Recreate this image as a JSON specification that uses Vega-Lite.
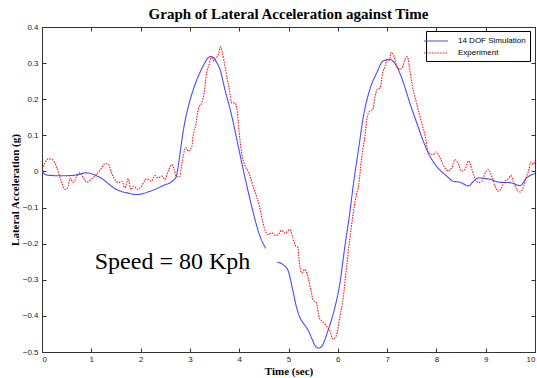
{
  "$schema": "https://vega.github.io/schema/vega-lite/v6.json",
  "width": 493,
  "height": 325,
  "autosize": "none",
  "padding": {"left": 42, "top": 27, "right": 2, "bottom": 26},
  "background": "#ffffff",
  "title": {"text": "Graph of Lateral Acceleration against Time", "font": "Liberation Serif", "fontSize": 15, "fontWeight": "bold", "color": "#000", "anchor": "middle", "offset": 1},
  "config": {
    "view": {"stroke": "#333", "strokeWidth": 1},
    "axis": {"grid": false, "domainColor": "#333", "tickColor": "#333", "tickSize": -4, "labelFont": "Liberation Sans", "labelFontSize": 8, "labelColor": "#222", "titleFont": "Liberation Serif", "titleFontSize": 11, "titleFontWeight": "bold", "titleColor": "#000"},
    "legend": {"orient": "none", "legendX": 384, "legendY": 4, "strokeColor": "#000", "fillColor": "#fff", "padding": 4, "labelFont": "Liberation Sans", "labelFontSize": 8, "labelColor": "#000", "symbolType": "M-2.4,0H2.4", "symbolSize": 100, "symbolStrokeWidth": 1.2, "rowPadding": 2, "labelOffset": 16, "cornerRadius": 0}
  },
  "datasets": {
    "curves": [
      {"t":0,"v":0.0,"s":"14 DOF Simulation","g":"a"},
      {"t":0.1,"v":-0.01,"s":"14 DOF Simulation","g":"a"},
      {"t":0.37,"v":-0.012,"s":"14 DOF Simulation","g":"a"},
      {"t":0.63,"v":-0.011,"s":"14 DOF Simulation","g":"a"},
      {"t":0.9,"v":-0.004,"s":"14 DOF Simulation","g":"a"},
      {"t":1.18,"v":-0.017,"s":"14 DOF Simulation","g":"a"},
      {"t":1.51,"v":-0.05,"s":"14 DOF Simulation","g":"a"},
      {"t":1.75,"v":-0.06,"s":"14 DOF Simulation","g":"a"},
      {"t":1.92,"v":-0.064,"s":"14 DOF Simulation","g":"a"},
      {"t":2.19,"v":-0.055,"s":"14 DOF Simulation","g":"a"},
      {"t":2.46,"v":-0.039,"s":"14 DOF Simulation","g":"a"},
      {"t":2.66,"v":-0.025,"s":"14 DOF Simulation","g":"a"},
      {"t":2.72,"v":-0.015,"s":"14 DOF Simulation","g":"a"},
      {"t":2.78,"v":0.03,"s":"14 DOF Simulation","g":"a"},
      {"t":2.82,"v":0.07,"s":"14 DOF Simulation","g":"a"},
      {"t":2.87,"v":0.116,"s":"14 DOF Simulation","g":"a"},
      {"t":2.97,"v":0.181,"s":"14 DOF Simulation","g":"a"},
      {"t":3.07,"v":0.227,"s":"14 DOF Simulation","g":"a"},
      {"t":3.2,"v":0.273,"s":"14 DOF Simulation","g":"a"},
      {"t":3.3,"v":0.3,"s":"14 DOF Simulation","g":"a"},
      {"t":3.37,"v":0.315,"s":"14 DOF Simulation","g":"a"},
      {"t":3.43,"v":0.318,"s":"14 DOF Simulation","g":"a"},
      {"t":3.48,"v":0.315,"s":"14 DOF Simulation","g":"a"},
      {"t":3.55,"v":0.3,"s":"14 DOF Simulation","g":"a"},
      {"t":3.61,"v":0.283,"s":"14 DOF Simulation","g":"a"},
      {"t":3.71,"v":0.227,"s":"14 DOF Simulation","g":"a"},
      {"t":3.85,"v":0.153,"s":"14 DOF Simulation","g":"a"},
      {"t":3.98,"v":0.07,"s":"14 DOF Simulation","g":"a"},
      {"t":4.08,"v":0.006,"s":"14 DOF Simulation","g":"a"},
      {"t":4.22,"v":-0.078,"s":"14 DOF Simulation","g":"a"},
      {"t":4.32,"v":-0.133,"s":"14 DOF Simulation","g":"a"},
      {"t":4.42,"v":-0.179,"s":"14 DOF Simulation","g":"a"},
      {"t":4.54,"v":-0.213,"s":"14 DOF Simulation","g":"a"},
      {"t":4.77,"v":-0.251,"s":"14 DOF Simulation","g":"b"},
      {"t":4.89,"v":-0.258,"s":"14 DOF Simulation","g":"b"},
      {"t":4.99,"v":-0.274,"s":"14 DOF Simulation","g":"b"},
      {"t":5.09,"v":-0.331,"s":"14 DOF Simulation","g":"b"},
      {"t":5.17,"v":-0.38,"s":"14 DOF Simulation","g":"b"},
      {"t":5.23,"v":-0.404,"s":"14 DOF Simulation","g":"b"},
      {"t":5.3,"v":-0.42,"s":"14 DOF Simulation","g":"b"},
      {"t":5.4,"v":-0.44,"s":"14 DOF Simulation","g":"b"},
      {"t":5.48,"v":-0.465,"s":"14 DOF Simulation","g":"b"},
      {"t":5.56,"v":-0.486,"s":"14 DOF Simulation","g":"b"},
      {"t":5.62,"v":-0.489,"s":"14 DOF Simulation","g":"b"},
      {"t":5.67,"v":-0.485,"s":"14 DOF Simulation","g":"b"},
      {"t":5.8,"v":-0.441,"s":"14 DOF Simulation","g":"b"},
      {"t":5.94,"v":-0.377,"s":"14 DOF Simulation","g":"b"},
      {"t":6.04,"v":-0.312,"s":"14 DOF Simulation","g":"b"},
      {"t":6.14,"v":-0.211,"s":"14 DOF Simulation","g":"b"},
      {"t":6.24,"v":-0.118,"s":"14 DOF Simulation","g":"b"},
      {"t":6.31,"v":-0.042,"s":"14 DOF Simulation","g":"b"},
      {"t":6.42,"v":0.061,"s":"14 DOF Simulation","g":"b"},
      {"t":6.52,"v":0.153,"s":"14 DOF Simulation","g":"b"},
      {"t":6.65,"v":0.227,"s":"14 DOF Simulation","g":"b"},
      {"t":6.79,"v":0.273,"s":"14 DOF Simulation","g":"b"},
      {"t":6.92,"v":0.306,"s":"14 DOF Simulation","g":"b"},
      {"t":7.06,"v":0.31,"s":"14 DOF Simulation","g":"b"},
      {"t":7.19,"v":0.292,"s":"14 DOF Simulation","g":"b"},
      {"t":7.33,"v":0.246,"s":"14 DOF Simulation","g":"b"},
      {"t":7.46,"v":0.19,"s":"14 DOF Simulation","g":"b"},
      {"t":7.6,"v":0.135,"s":"14 DOF Simulation","g":"b"},
      {"t":7.73,"v":0.085,"s":"14 DOF Simulation","g":"b"},
      {"t":7.87,"v":0.042,"s":"14 DOF Simulation","g":"b"},
      {"t":8.0,"v":0.015,"s":"14 DOF Simulation","g":"b"},
      {"t":8.1,"v":0.0,"s":"14 DOF Simulation","g":"b"},
      {"t":8.21,"v":-0.013,"s":"14 DOF Simulation","g":"b"},
      {"t":8.34,"v":-0.027,"s":"14 DOF Simulation","g":"b"},
      {"t":8.48,"v":-0.03,"s":"14 DOF Simulation","g":"b"},
      {"t":8.65,"v":-0.04,"s":"14 DOF Simulation","g":"b"},
      {"t":8.75,"v":-0.028,"s":"14 DOF Simulation","g":"b"},
      {"t":8.85,"v":-0.018,"s":"14 DOF Simulation","g":"b"},
      {"t":9.09,"v":-0.022,"s":"14 DOF Simulation","g":"b"},
      {"t":9.29,"v":-0.03,"s":"14 DOF Simulation","g":"b"},
      {"t":9.49,"v":-0.031,"s":"14 DOF Simulation","g":"b"},
      {"t":9.7,"v":-0.039,"s":"14 DOF Simulation","g":"b"},
      {"t":9.83,"v":-0.018,"s":"14 DOF Simulation","g":"b"},
      {"t":9.97,"v":-0.007,"s":"14 DOF Simulation","g":"b"},
      {"t":10,"v":-0.006,"s":"14 DOF Simulation","g":"b"},
      {"t":0,"v":0.006,"s":"Experiment","g":"c"},
      {"t":0.06,"v":0.024,"s":"Experiment","g":"c"},
      {"t":0.13,"v":0.035,"s":"Experiment","g":"c"},
      {"t":0.23,"v":0.031,"s":"Experiment","g":"c"},
      {"t":0.3,"v":0.01,"s":"Experiment","g":"c"},
      {"t":0.37,"v":-0.018,"s":"Experiment","g":"c"},
      {"t":0.47,"v":-0.05,"s":"Experiment","g":"c"},
      {"t":0.53,"v":-0.041,"s":"Experiment","g":"c"},
      {"t":0.57,"v":-0.018,"s":"Experiment","g":"c"},
      {"t":0.63,"v":-0.03,"s":"Experiment","g":"c"},
      {"t":0.7,"v":-0.015,"s":"Experiment","g":"c"},
      {"t":0.77,"v":-0.004,"s":"Experiment","g":"c"},
      {"t":0.84,"v":-0.018,"s":"Experiment","g":"c"},
      {"t":0.91,"v":-0.03,"s":"Experiment","g":"c"},
      {"t":1.01,"v":-0.02,"s":"Experiment","g":"c"},
      {"t":1.11,"v":-0.008,"s":"Experiment","g":"c"},
      {"t":1.21,"v":0.01,"s":"Experiment","g":"c"},
      {"t":1.28,"v":0.022,"s":"Experiment","g":"c"},
      {"t":1.35,"v":0.019,"s":"Experiment","g":"c"},
      {"t":1.41,"v":-0.004,"s":"Experiment","g":"c"},
      {"t":1.48,"v":-0.022,"s":"Experiment","g":"c"},
      {"t":1.55,"v":-0.031,"s":"Experiment","g":"c"},
      {"t":1.62,"v":-0.027,"s":"Experiment","g":"c"},
      {"t":1.68,"v":-0.045,"s":"Experiment","g":"c"},
      {"t":1.75,"v":-0.02,"s":"Experiment","g":"c"},
      {"t":1.8,"v":-0.05,"s":"Experiment","g":"c"},
      {"t":1.87,"v":-0.041,"s":"Experiment","g":"c"},
      {"t":1.93,"v":-0.05,"s":"Experiment","g":"c"},
      {"t":2.02,"v":-0.041,"s":"Experiment","g":"c"},
      {"t":2.12,"v":-0.02,"s":"Experiment","g":"c"},
      {"t":2.22,"v":-0.027,"s":"Experiment","g":"c"},
      {"t":2.29,"v":-0.011,"s":"Experiment","g":"c"},
      {"t":2.36,"v":-0.018,"s":"Experiment","g":"c"},
      {"t":2.43,"v":-0.013,"s":"Experiment","g":"c"},
      {"t":2.49,"v":-0.022,"s":"Experiment","g":"c"},
      {"t":2.56,"v":0.001,"s":"Experiment","g":"c"},
      {"t":2.63,"v":0.019,"s":"Experiment","g":"c"},
      {"t":2.68,"v":0.006,"s":"Experiment","g":"c"},
      {"t":2.73,"v":-0.015,"s":"Experiment","g":"c"},
      {"t":2.8,"v":-0.013,"s":"Experiment","g":"c"},
      {"t":2.83,"v":0.015,"s":"Experiment","g":"c"},
      {"t":2.87,"v":0.047,"s":"Experiment","g":"c"},
      {"t":2.92,"v":0.066,"s":"Experiment","g":"c"},
      {"t":2.97,"v":0.056,"s":"Experiment","g":"c"},
      {"t":3.04,"v":0.07,"s":"Experiment","g":"c"},
      {"t":3.07,"v":0.102,"s":"Experiment","g":"c"},
      {"t":3.12,"v":0.13,"s":"Experiment","g":"c"},
      {"t":3.17,"v":0.172,"s":"Experiment","g":"c"},
      {"t":3.24,"v":0.19,"s":"Experiment","g":"c"},
      {"t":3.29,"v":0.218,"s":"Experiment","g":"c"},
      {"t":3.34,"v":0.273,"s":"Experiment","g":"c"},
      {"t":3.39,"v":0.296,"s":"Experiment","g":"c"},
      {"t":3.44,"v":0.319,"s":"Experiment","g":"c"},
      {"t":3.49,"v":0.306,"s":"Experiment","g":"c"},
      {"t":3.54,"v":0.315,"s":"Experiment","g":"c"},
      {"t":3.59,"v":0.329,"s":"Experiment","g":"c"},
      {"t":3.62,"v":0.345,"s":"Experiment","g":"c"},
      {"t":3.66,"v":0.329,"s":"Experiment","g":"c"},
      {"t":3.71,"v":0.292,"s":"Experiment","g":"c"},
      {"t":3.76,"v":0.255,"s":"Experiment","g":"c"},
      {"t":3.8,"v":0.227,"s":"Experiment","g":"c"},
      {"t":3.85,"v":0.19,"s":"Experiment","g":"c"},
      {"t":3.91,"v":0.19,"s":"Experiment","g":"c"},
      {"t":3.96,"v":0.167,"s":"Experiment","g":"c"},
      {"t":4.0,"v":0.107,"s":"Experiment","g":"c"},
      {"t":4.05,"v":0.052,"s":"Experiment","g":"c"},
      {"t":4.12,"v":0.015,"s":"Experiment","g":"c"},
      {"t":4.18,"v":0.001,"s":"Experiment","g":"c"},
      {"t":4.24,"v":-0.022,"s":"Experiment","g":"c"},
      {"t":4.29,"v":-0.045,"s":"Experiment","g":"c"},
      {"t":4.35,"v":-0.068,"s":"Experiment","g":"c"},
      {"t":4.41,"v":-0.096,"s":"Experiment","g":"c"},
      {"t":4.46,"v":-0.128,"s":"Experiment","g":"c"},
      {"t":4.52,"v":-0.161,"s":"Experiment","g":"c"},
      {"t":4.59,"v":-0.175,"s":"Experiment","g":"c"},
      {"t":4.66,"v":-0.17,"s":"Experiment","g":"c"},
      {"t":4.73,"v":-0.177,"s":"Experiment","g":"c"},
      {"t":4.79,"v":-0.175,"s":"Experiment","g":"c"},
      {"t":4.86,"v":-0.163,"s":"Experiment","g":"c"},
      {"t":4.93,"v":-0.172,"s":"Experiment","g":"c"},
      {"t":4.98,"v":-0.165,"s":"Experiment","g":"c"},
      {"t":5.03,"v":-0.161,"s":"Experiment","g":"c"},
      {"t":5.09,"v":-0.184,"s":"Experiment","g":"c"},
      {"t":5.15,"v":-0.207,"s":"Experiment","g":"c"},
      {"t":5.19,"v":-0.21,"s":"Experiment","g":"c"},
      {"t":5.22,"v":-0.253,"s":"Experiment","g":"c"},
      {"t":5.27,"v":-0.281,"s":"Experiment","g":"c"},
      {"t":5.33,"v":-0.271,"s":"Experiment","g":"c"},
      {"t":5.4,"v":-0.295,"s":"Experiment","g":"c"},
      {"t":5.46,"v":-0.332,"s":"Experiment","g":"c"},
      {"t":5.5,"v":-0.357,"s":"Experiment","g":"c"},
      {"t":5.56,"v":-0.363,"s":"Experiment","g":"c"},
      {"t":5.63,"v":-0.407,"s":"Experiment","g":"c"},
      {"t":5.71,"v":-0.418,"s":"Experiment","g":"c"},
      {"t":5.77,"v":-0.428,"s":"Experiment","g":"c"},
      {"t":5.84,"v":-0.442,"s":"Experiment","g":"c"},
      {"t":5.9,"v":-0.464,"s":"Experiment","g":"c"},
      {"t":5.97,"v":-0.455,"s":"Experiment","g":"c"},
      {"t":6.04,"v":-0.404,"s":"Experiment","g":"c"},
      {"t":6.11,"v":-0.349,"s":"Experiment","g":"c"},
      {"t":6.17,"v":-0.275,"s":"Experiment","g":"c"},
      {"t":6.24,"v":-0.192,"s":"Experiment","g":"c"},
      {"t":6.31,"v":-0.118,"s":"Experiment","g":"c"},
      {"t":6.38,"v":-0.063,"s":"Experiment","g":"c"},
      {"t":6.42,"v":-0.041,"s":"Experiment","g":"c"},
      {"t":6.48,"v":0.033,"s":"Experiment","g":"c"},
      {"t":6.55,"v":0.098,"s":"Experiment","g":"c"},
      {"t":6.6,"v":0.153,"s":"Experiment","g":"c"},
      {"t":6.65,"v":0.167,"s":"Experiment","g":"c"},
      {"t":6.71,"v":0.172,"s":"Experiment","g":"c"},
      {"t":6.75,"v":0.204,"s":"Experiment","g":"c"},
      {"t":6.8,"v":0.227,"s":"Experiment","g":"c"},
      {"t":6.86,"v":0.232,"s":"Experiment","g":"c"},
      {"t":6.91,"v":0.273,"s":"Experiment","g":"c"},
      {"t":6.96,"v":0.292,"s":"Experiment","g":"c"},
      {"t":7.0,"v":0.31,"s":"Experiment","g":"c"},
      {"t":7.05,"v":0.308,"s":"Experiment","g":"c"},
      {"t":7.08,"v":0.33,"s":"Experiment","g":"c"},
      {"t":7.14,"v":0.319,"s":"Experiment","g":"c"},
      {"t":7.19,"v":0.294,"s":"Experiment","g":"c"},
      {"t":7.26,"v":0.283,"s":"Experiment","g":"c"},
      {"t":7.32,"v":0.292,"s":"Experiment","g":"c"},
      {"t":7.36,"v":0.31,"s":"Experiment","g":"c"},
      {"t":7.41,"v":0.318,"s":"Experiment","g":"c"},
      {"t":7.45,"v":0.292,"s":"Experiment","g":"c"},
      {"t":7.5,"v":0.246,"s":"Experiment","g":"c"},
      {"t":7.57,"v":0.204,"s":"Experiment","g":"c"},
      {"t":7.63,"v":0.172,"s":"Experiment","g":"c"},
      {"t":7.7,"v":0.135,"s":"Experiment","g":"c"},
      {"t":7.77,"v":0.1,"s":"Experiment","g":"c"},
      {"t":7.84,"v":0.052,"s":"Experiment","g":"c"},
      {"t":7.94,"v":0.047,"s":"Experiment","g":"c"},
      {"t":8.0,"v":0.054,"s":"Experiment","g":"c"},
      {"t":8.07,"v":0.038,"s":"Experiment","g":"c"},
      {"t":8.17,"v":0.01,"s":"Experiment","g":"c"},
      {"t":8.24,"v":0.001,"s":"Experiment","g":"c"},
      {"t":8.31,"v":0.01,"s":"Experiment","g":"c"},
      {"t":8.38,"v":0.033,"s":"Experiment","g":"c"},
      {"t":8.44,"v":0.022,"s":"Experiment","g":"c"},
      {"t":8.51,"v":0.001,"s":"Experiment","g":"c"},
      {"t":8.58,"v":0.006,"s":"Experiment","g":"c"},
      {"t":8.65,"v":0.029,"s":"Experiment","g":"c"},
      {"t":8.72,"v":0.006,"s":"Experiment","g":"c"},
      {"t":8.78,"v":-0.018,"s":"Experiment","g":"c"},
      {"t":8.85,"v":-0.031,"s":"Experiment","g":"c"},
      {"t":8.92,"v":-0.027,"s":"Experiment","g":"c"},
      {"t":8.99,"v":-0.004,"s":"Experiment","g":"c"},
      {"t":9.05,"v":0.006,"s":"Experiment","g":"c"},
      {"t":9.12,"v":-0.013,"s":"Experiment","g":"c"},
      {"t":9.19,"v":-0.041,"s":"Experiment","g":"c"},
      {"t":9.26,"v":-0.055,"s":"Experiment","g":"c"},
      {"t":9.32,"v":-0.045,"s":"Experiment","g":"c"},
      {"t":9.39,"v":-0.027,"s":"Experiment","g":"c"},
      {"t":9.46,"v":-0.02,"s":"Experiment","g":"c"},
      {"t":9.51,"v":-0.011,"s":"Experiment","g":"c"},
      {"t":9.56,"v":-0.027,"s":"Experiment","g":"c"},
      {"t":9.63,"v":-0.05,"s":"Experiment","g":"c"},
      {"t":9.7,"v":-0.057,"s":"Experiment","g":"c"},
      {"t":9.77,"v":-0.041,"s":"Experiment","g":"c"},
      {"t":9.83,"v":-0.013,"s":"Experiment","g":"c"},
      {"t":9.88,"v":0.006,"s":"Experiment","g":"c"},
      {"t":9.91,"v":0.026,"s":"Experiment","g":"c"},
      {"t":9.97,"v":0.019,"s":"Experiment","g":"c"},
      {"t":10,"v":0.03,"s":"Experiment","g":"c"}
    ],
    "note": [{"t": 1.07, "v": -0.252, "label": "Speed = 80 Kph"}]
  },
  "resolve": {"axis": {"x": "independent", "y": "independent"}},
  "layer": [
    {
      "data": {"name": "curves"},
      "mark": {"type": "line", "strokeWidth": 1.1, "interpolate": "monotone"},
      "encoding": {
        "x": {"field": "t", "type": "quantitative", "scale": {"domain": [0, 10], "nice": false}, "axis": {"orient": "bottom", "title": "Time (sec)", "values": [0,1,2,3,4,5,6,7,8,9,10], "format": "d", "labelPadding": 7, "titlePadding": 2}},
        "y": {"field": "v", "type": "quantitative", "scale": {"domain": [-0.5, 0.4], "nice": false}, "axis": {"orient": "left", "title": "Lateral Acceleration (g)", "values": [-0.5,-0.4,-0.3,-0.2,-0.1,0,0.1,0.2,0.3,0.4], "labelExpr": "replace(format(datum.value, '.1f'), '0.0', '0')", "labelPadding": 8, "titlePadding": 2}},
        "color": {"field": "s", "type": "nominal", "title": null, "sort": ["14 DOF Simulation", "Experiment"], "scale": {"domain": ["14 DOF Simulation", "Experiment"], "range": ["#4a4aff", "#ff1010"]}},
        "strokeDash": {"field": "s", "type": "nominal", "title": null, "sort": ["14 DOF Simulation", "Experiment"], "scale": {"domain": ["14 DOF Simulation", "Experiment"], "range": [[1, 0], [1.5, 1.2]]}},
        "detail": {"field": "g", "type": "nominal"}
      }
    },
    {
      "data": {"name": "note"},
      "mark": {"type": "text", "align": "left", "baseline": "middle", "font": "Liberation Serif", "fontSize": 24, "color": "#000"},
      "encoding": {
        "x": {"field": "t", "type": "quantitative", "axis": {"orient": "top", "title": null, "labels": false, "values": [0,1,2,3,4,5,6,7,8,9,10]}},
        "y": {"field": "v", "type": "quantitative", "axis": {"orient": "right", "title": null, "labels": false, "values": [-0.5,-0.4,-0.3,-0.2,-0.1,0,0.1,0.2,0.3,0.4]}},
        "text": {"field": "label"}
      }
    }
  ]
}
